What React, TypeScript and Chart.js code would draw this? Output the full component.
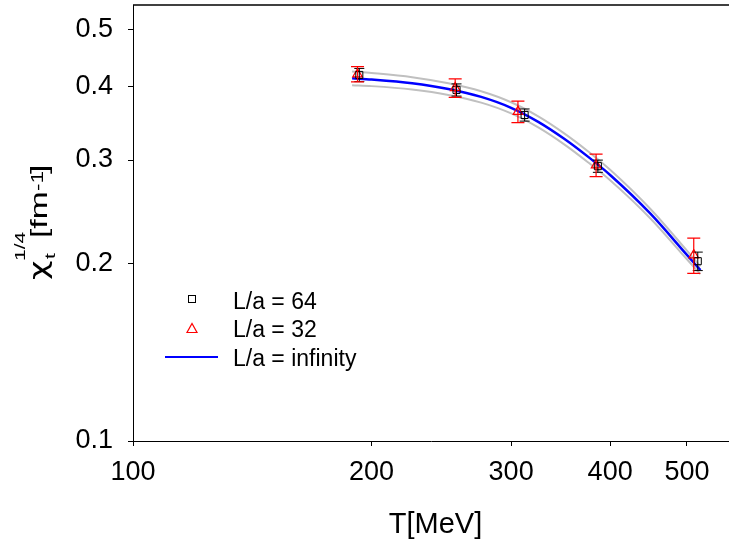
import React, { useEffect, useRef } from "react";
import Chart from "chart.js/auto";

// ---- data ----
const temps64 = [193, 256, 312, 386, 516];
const chi64 = [0.4184, 0.3946, 0.3578, 0.2929, 0.202];
const err64 = [0.0108, 0.0094, 0.0085, 0.007, 0.0073];

const temps32 = [192, 255, 306, 384, 510];
const chi32 = [0.4196, 0.3977, 0.3625, 0.2941, 0.2068];
const err32 = [0.0125, 0.0143, 0.0152, 0.0129, 0.0142];

const fitT = [189, 200, 225, 250, 275, 300, 325, 350, 375, 400, 450, 500, 520];
const fitMid = [0.413, 0.411, 0.405, 0.396, 0.384, 0.368, 0.348, 0.326, 0.304, 0.283, 0.243, 0.207, 0.195];
const fitUp = [0.424, 0.4215, 0.4148, 0.405, 0.3925, 0.376, 0.3555, 0.333, 0.3105, 0.2888, 0.2475, 0.2105, 0.198];
const fitLow = [0.402, 0.4005, 0.3952, 0.387, 0.3755, 0.36, 0.3405, 0.319, 0.2975, 0.2772, 0.2385, 0.2035, 0.192];

const xTicks = [100, 200, 300, 400, 500];
const yTicks = [0.1, 0.2, 0.3, 0.4, 0.5];
const legendLabels = ["L/a = 64", "L/a = 32", "L/a = infinity"];

const FONT = "'Liberation Sans', Arial, sans-serif";

const pts = (xs: number[], ys: number[]) => xs.map((x, i) => ({ x, y: ys[i] }));

const errorBarPlugin = {
  id: "errorBars",
  afterDatasetsDraw(chart: any) {
    const { ctx } = chart;
    const x = chart.scales.x;
    const y = chart.scales.y;
    const draw = (ts: number[], vs: number[], es: number[], color: string, cap: number, lw: number) => {
      ctx.save();
      ctx.strokeStyle = color;
      ctx.lineWidth = lw;
      ts.forEach((t, i) => {
        const px = x.getPixelForValue(t);
        const top = y.getPixelForValue(vs[i] + es[i]);
        const bot = y.getPixelForValue(vs[i] - es[i]);
        ctx.beginPath();
        ctx.moveTo(px, top);
        ctx.lineTo(px, bot);
        ctx.moveTo(px - cap, top);
        ctx.lineTo(px + cap, top);
        ctx.moveTo(px - cap, bot);
        ctx.lineTo(px + cap, bot);
        ctx.stroke();
      });
      ctx.restore();
    };
    draw(temps64, chi64, err64, "#000000", 5, 1);
    draw(temps32, chi32, err32, "#ff0000", 6.5, 1.2);
  },
};

const decorPlugin = {
  id: "decor",
  afterDraw(chart: any) {
    const { ctx, chartArea } = chart;
    ctx.save();
    // top frame line
    ctx.strokeStyle = "#000";
    ctx.lineWidth = 1.5;
    ctx.beginPath();
    ctx.moveTo(chartArea.left, chartArea.top);
    ctx.lineTo(chartArea.right, chartArea.top);
    ctx.stroke();

    // x title
    ctx.fillStyle = "#000";
    ctx.font = `29px ${FONT}`;
    ctx.textAlign = "center";
    ctx.textBaseline = "alphabetic";
    ctx.fillText("T[MeV]", 435.5, 533);

    // y title (rotated)
    ctx.save();
    ctx.translate(47, 280);
    ctx.rotate(-Math.PI / 2);
    const SX = 1.4;
    ctx.scale(SX, 1);
    ctx.textAlign = "left";
    const put = (s: string, u: number, v: number, size: number, fam = FONT) => {
      ctx.font = `${size}px ${fam}`;
      ctx.fillText(s, u / SX, v);
    };
    put("\u03c7", 0, 0, 24, "'DejaVu Sans', sans-serif");
    put("1/4", 19, -22, 15);
    put("t", 21, 8, 15);
    put("[fm", 42, 0, 24);
    put("-1", 89, -4, 16);
    put("]", 106, 0, 24);
    ctx.restore();

    // legend
    ctx.lineWidth = 1;
    ctx.strokeStyle = "#000";
    ctx.strokeRect(188.5, 295.5, 7, 7);
    ctx.strokeStyle = "#ff0000";
    ctx.lineWidth = 1.2;
    ctx.beginPath();
    ctx.moveTo(187, 332.5);
    ctx.lineTo(197, 332.5);
    ctx.lineTo(192, 323.5);
    ctx.closePath();
    ctx.stroke();
    ctx.strokeStyle = "#0000ff";
    ctx.lineWidth = 2;
    ctx.beginPath();
    ctx.moveTo(165, 357);
    ctx.lineTo(218, 357);
    ctx.stroke();
    ctx.fillStyle = "#000";
    ctx.font = `23px ${FONT}`;
    ctx.textAlign = "left";
    ctx.fillText(legendLabels[0], 233, 308.5);
    ctx.fillText(legendLabels[1], 233, 337);
    ctx.fillText(legendLabels[2], 233, 366);
    ctx.restore();
  },
};

const zeroPad = (s: any) => {
  s.paddingTop = 0;
  s.paddingBottom = 0;
  s.paddingLeft = 0;
  s.paddingRight = 0;
};

export default function App() {
  const ref = useRef<HTMLCanvasElement>(null);
  useEffect(() => {
    if (!ref.current) return;
    const lineDs = (label: string, ys: number[], color: string, width: number, order: number) =>
      ({
        type: "line",
        label,
        data: pts(fitT, ys),
        borderColor: color,
        borderWidth: width,
        pointRadius: 0,
        showLine: true,
        fill: false,
        cubicInterpolationMode: "monotone",
        order,
      } as any);
    const chart = new Chart(ref.current, {
      type: "scatter",
      data: {
        datasets: [
          {
            label: legendLabels[0],
            data: pts(temps64, chi64),
            pointStyle: "rect",
            pointRadius: 5,
            borderColor: "#000000",
            backgroundColor: "rgba(0,0,0,0)",
            borderWidth: 1,
            order: 1,
          },
          {
            label: legendLabels[1],
            data: pts(temps32, chi32),
            pointStyle: "triangle",
            pointRadius: 5.5,
            borderColor: "#ff0000",
            backgroundColor: "rgba(0,0,0,0)",
            borderWidth: 1.2,
            order: 2,
          },
          lineDs(legendLabels[2], fitMid, "#0000ff", 2.5, 3),
          lineDs("upper", fitUp, "#c0c0c0", 2, 4),
          lineDs("lower", fitLow, "#c0c0c0", 2, 4),
        ],
      },
      options: {
        responsive: false,
        animation: false,
        events: [],
        layout: { autoPadding: false, padding: { left: 0, right: 0, top: 5, bottom: 0 } },
        plugins: { legend: { display: false }, tooltip: { enabled: false } },
        scales: {
          x: {
            type: "logarithmic",
            min: 100,
            max: 565,
            afterBuildTicks: (s: any) => {
              s.ticks = xTicks.map((v) => ({ value: v }));
            },
            afterFit: (s: any) => {
              s.height = 99;
              zeroPad(s);
            },
            ticks: {
              autoSkip: false,
              maxRotation: 0,
              minRotation: 0,
              padding: 10,
              color: "#000",
              font: { family: FONT, size: 27 },
              callback: (v: any) => String(v),
            },
            grid: { drawOnChartArea: false, drawTicks: true, tickLength: 5, color: "#000", tickColor: "#000" },
            border: { color: "#000", width: 1 },
          },
          y: {
            type: "logarithmic",
            min: 0.1,
            max: 0.55,
            afterBuildTicks: (s: any) => {
              s.ticks = yTicks.map((v) => ({ value: v }));
            },
            afterFit: (s: any) => {
              s.width = 133;
              zeroPad(s);
            },
            ticks: {
              autoSkip: false,
              padding: 15,
              color: "#000",
              font: { family: FONT, size: 27 },
              callback: (v: any) => String(v),
            },
            grid: { drawOnChartArea: false, drawTicks: true, tickLength: 5, color: "#000", tickColor: "#000" },
            border: { color: "#000", width: 1 },
          },
        },
      } as any,
      plugins: [errorBarPlugin, decorPlugin],
    });
    return () => chart.destroy();
  }, []);
  return (
    <div style={{ position: "absolute", left: 0, top: 0, width: 729, height: 540, background: "#fff" }}>
      <canvas ref={ref} width={729} height={540} style={{ display: "block", width: 729, height: 540 }} />
    </div>
  );
}
